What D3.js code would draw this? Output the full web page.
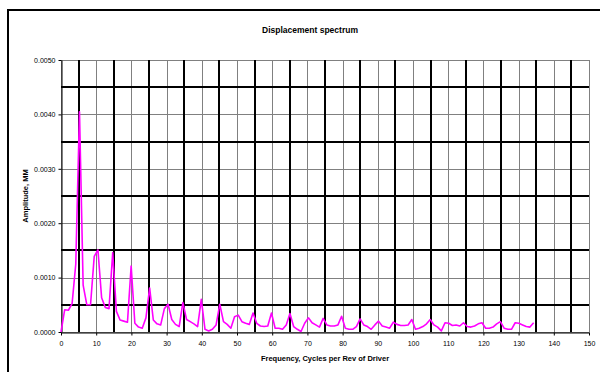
<!DOCTYPE html>
<html>
<head>
<meta charset="utf-8">
<script src="https://cdn.jsdelivr.net/npm/d3@7"></script>
<style>
  html, body { margin: 0; padding: 0; background: #fff; }
  svg { display: block; font-family: Arial, "Liberation Sans", sans-serif; }
</style>
</head>
<body>
<svg id="chart" width="600" height="372"></svg>
<script>
// Frequencies (cycles per rev of driver) for each spectrum line
const frequency = [
  0, 1.05, 2.10, 3.15, 4.20, 5.25, 6.29, 7.34, 8.39, 9.44,
  10.49, 11.54, 12.59, 13.64, 14.69, 15.74, 16.78, 17.83, 18.88, 19.93,
  20.98, 22.03, 23.08, 24.13, 25.18, 26.23, 27.27, 28.32, 29.37, 30.42,
  31.47, 32.52, 33.57, 34.62, 35.67, 36.72, 37.76, 38.81, 39.86, 40.91,
  41.96, 43.01, 44.06, 45.11, 46.16, 47.21, 48.25, 49.30, 50.35, 51.40,
  52.45, 53.50, 54.55, 55.60, 56.65, 57.70, 58.74, 59.79, 60.84, 61.89,
  62.94, 63.99, 65.04, 66.09, 67.14, 68.19, 69.23, 70.28, 71.33, 72.38,
  73.43, 74.48, 75.53, 76.58, 77.63, 78.68, 79.72, 80.77, 81.82, 82.87,
  83.92, 84.97, 86.02, 87.07, 88.12, 89.17, 90.21, 91.26, 92.31, 93.36,
  94.41, 95.46, 96.51, 97.56, 98.61, 99.66, 100.70, 101.75, 102.80, 103.85,
  104.90, 105.95, 107.00, 108.05, 109.10, 110.15, 111.19, 112.24, 113.29, 114.34,
  115.39, 116.44, 117.49, 118.54, 119.59, 120.64, 121.68, 122.73, 123.78, 124.83,
  125.88, 126.93, 127.98, 129.03, 130.08, 131.13, 132.17, 133.22, 134.27
];

// Displacement amplitude (mm) at each frequency
const amplitude = [
  0.00000, 0.00041, 0.00040, 0.00052, 0.00125, 0.00405, 0.00086, 0.00050, 0.00050, 0.00139,
  0.00151, 0.00063, 0.00045, 0.00043, 0.00146, 0.00038, 0.00022, 0.00020, 0.00018, 0.00121,
  0.00016, 0.00009, 0.00007, 0.00026, 0.00081, 0.00022, 0.00015, 0.00013, 0.00043, 0.00051,
  0.00023, 0.00014, 0.00010, 0.00054, 0.00023, 0.00019, 0.00015, 0.00010, 0.00060, 0.00005,
  0.00002, 0.00005, 0.00013, 0.00051, 0.00019, 0.00014, 0.00007, 0.00028, 0.00031, 0.00019,
  0.00016, 0.00014, 0.00035, 0.00016, 0.00011, 0.00010, 0.00011, 0.00035, 0.00007, 0.00007,
  0.00005, 0.00013, 0.00034, 0.00010, 0.00005, 0.00001, 0.00016, 0.00026, 0.00017, 0.00013,
  0.00009, 0.00025, 0.00013, 0.00011, 0.00011, 0.00013, 0.00029, 0.00007, 0.00005, 0.00005,
  0.00010, 0.00024, 0.00013, 0.00010, 0.00005, 0.00013, 0.00020, 0.00011, 0.00009, 0.00007,
  0.00018, 0.00014, 0.00012, 0.00012, 0.00013, 0.00023, 0.00005, 0.00007, 0.00010, 0.00015,
  0.00023, 0.00013, 0.00009, 0.00002, 0.00017, 0.00016, 0.00012, 0.00013, 0.00011, 0.00017,
  0.00010, 0.00009, 0.00011, 0.00015, 0.00017, 0.00007, 0.00007, 0.00009, 0.00015, 0.00019,
  0.00007, 0.00005, 0.00005, 0.00017, 0.00016, 0.00013, 0.00010, 0.00009, 0.00017
];

// Axis tick values
const xTicks = [0, 10, 20, 30, 40, 50, 60, 70, 80, 90, 100, 110, 120, 130, 140, 150];
const yTicks = [0, 0.001, 0.002, 0.003, 0.004, 0.005];
// Heavier intermediate grid lines
const xMinorGrid = [5, 15, 25, 35, 45, 55, 65, 75, 85, 95, 105, 115, 125, 135, 145];
const yMinorGrid = [0.0005, 0.0015, 0.0025, 0.0035, 0.0045];

const chartTitle = "Displacement spectrum";
const xTitle = "Frequency, Cycles per Rev of Driver";
const yTitle = "Amplitude, MM";

const svg = d3.select("#chart");
const plot = { left: 61, right: 589, top: 60, bottom: 332 };

const x = d3.scaleLinear().domain([0, 150]).range([plot.left, plot.right]);
const y = d3.scaleLinear().domain([0, 0.005]).range([plot.bottom, plot.top]);

svg.append("rect").attr("width", 600).attr("height", 372).attr("fill", "#fff");

// Outer chart frame
svg.append("rect")
  .attr("x", 8).attr("y", 10).attr("width", 640).attr("height", 400)
  .attr("fill", "none").attr("stroke", "#000").attr("stroke-width", 2);

// Grid: grey lines at labelled ticks, black lines in between
const grid = svg.append("g");
grid.selectAll(".gx").data(xTicks).join("line")
  .attr("x1", d => Math.round(x(d)) + 0.5).attr("x2", d => Math.round(x(d)) + 0.5)
  .attr("y1", plot.top).attr("y2", plot.bottom)
  .attr("stroke", "#808080").attr("stroke-width", 1);
grid.selectAll(".gy").data(yTicks).join("line")
  .attr("x1", plot.left).attr("x2", plot.right)
  .attr("y1", d => Math.round(y(d)) + 0.5).attr("y2", d => Math.round(y(d)) + 0.5)
  .attr("stroke", "#808080").attr("stroke-width", 1);
grid.selectAll(".mx").data(xMinorGrid).join("line")
  .attr("x1", d => Math.round(x(d))).attr("x2", d => Math.round(x(d)))
  .attr("y1", plot.top).attr("y2", plot.bottom)
  .attr("stroke", "#000").attr("stroke-width", 2);
grid.selectAll(".my").data(yMinorGrid).join("line")
  .attr("x1", plot.left).attr("x2", plot.right)
  .attr("y1", d => Math.round(y(d))).attr("y2", d => Math.round(y(d)))
  .attr("stroke", "#000").attr("stroke-width", 2);

// Axes
const xAxis = svg.append("g")
  .attr("transform", `translate(0,${plot.bottom + 0.5})`)
  .call(d3.axisBottom(x).tickValues(xTicks).tickFormat(d3.format("d")).tickSizeInner(3).tickSizeOuter(0).tickPadding(6));
const yAxis = svg.append("g")
  .attr("transform", `translate(${plot.left + 0.5},0)`)
  .call(d3.axisLeft(y).tickValues(yTicks).tickFormat(d3.format(".4f")).tickSizeInner(3).tickSizeOuter(0).tickPadding(3));
[xAxis, yAxis].forEach(g => {
  g.select(".domain").attr("stroke", "#000").attr("stroke-width", 1);
  g.selectAll(".tick line").attr("stroke", "#000");
  g.selectAll(".tick text").attr("font-size", 7).attr("fill", "#000")
    .attr("font-family", "Arial, 'Liberation Sans', sans-serif");
});

// Spectrum line
const points = frequency.map((f, i) => [f, amplitude[i]]);
svg.append("path")
  .datum(points)
  .attr("fill", "none")
  .attr("stroke", "#ff00ff")
  .attr("stroke-width", 1.6)
  .attr("stroke-linejoin", "round")
  .attr("d", d3.line().x(d => x(d[0])).y(d => y(d[1])));

// Titles
svg.append("text")
  .attr("x", 310).attr("y", 33)
  .attr("text-anchor", "middle").attr("font-size", 8.5).attr("font-weight", "bold")
  .text(chartTitle);
svg.append("text")
  .attr("x", 325).attr("y", 361)
  .attr("text-anchor", "middle").attr("font-size", 7.5).attr("font-weight", "bold")
  .text(xTitle);
svg.append("text")
  .attr("transform", `translate(28,${(plot.top + plot.bottom) / 2}) rotate(-90)`)
  .attr("text-anchor", "middle").attr("font-size", 7.5).attr("font-weight", "bold")
  .text(yTitle);
</script>
</body>
</html>
